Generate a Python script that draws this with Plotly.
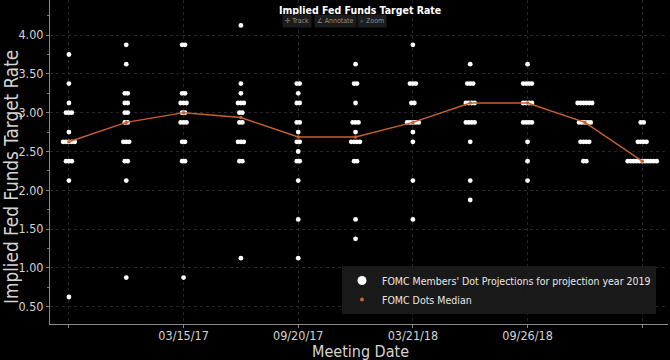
import plotly.graph_objects as go

meetings = ["09/21/16", "12/14/16", "03/15/17", "06/14/17", "09/20/17", "12/13/17",
            "03/21/18", "06/13/18", "09/26/18", "12/19/18", "03/20/19"]
tick_labels = ["", "03/15/17", "09/20/17", "03/21/18", "09/26/18", ""]

dots_2016_09 = [0.625, 2.125, 2.375, 2.375, 2.375, 2.625, 2.625, 2.625, 2.625, 2.625,
                2.75, 3.0, 3.0, 3.0, 3.125, 3.375, 3.75]
dots_2016_12 = [0.875, 2.125, 2.375, 2.375, 2.625, 2.625, 2.625, 2.875, 2.875, 3.0, 3.0,
                3.125, 3.125, 3.25, 3.25, 3.625, 3.875]
dots_2017_03 = [0.875, 2.375, 2.375, 2.625, 2.625, 2.875, 2.875, 2.875, 3.0, 3.0,
                3.125, 3.125, 3.125, 3.25, 3.25, 3.875, 3.875]
dots_2017_06 = [1.125, 2.375, 2.375, 2.625, 2.625, 2.625, 2.875, 2.875, 3.0, 3.0,
                3.125, 3.125, 3.125, 3.25, 3.375, 4.125]
dots_2017_09 = [1.125, 1.625, 2.125, 2.375, 2.375, 2.5, 2.625, 2.625, 2.75, 2.875, 2.875,
                3.125, 3.125, 3.25, 3.375, 3.375]
dots_2017_12 = [1.375, 1.625, 2.375, 2.375, 2.625, 2.625, 2.625, 2.625, 2.75,
                2.875, 2.875, 2.875, 3.125, 3.375, 3.375, 3.625]
dots_2018_03 = [1.625, 2.125, 2.625, 2.75, 2.875, 2.875, 2.875, 2.875, 2.875,
                3.125, 3.125, 3.375, 3.375, 3.375, 3.875]
dots_2018_06 = [1.875, 2.125, 2.625, 2.875, 2.875, 2.875, 2.875, 3.125, 3.125, 3.125, 3.125,
                3.375, 3.375, 3.375, 3.625]
dots_2018_09 = [2.125, 2.375, 2.625, 2.875, 2.875, 2.875, 2.875, 3.125, 3.125, 3.125, 3.125,
                3.375, 3.375, 3.375, 3.375, 3.625]
dots_2018_12 = [2.375, 2.375, 2.625, 2.625, 2.625, 2.625, 2.875, 2.875, 2.875, 2.875, 2.875,
                3.125, 3.125, 3.125, 3.125, 3.125, 3.125]
dots_2019_03 = [2.375] * 11 + [2.625] * 4 + [2.875] * 2

all_dots = [dots_2016_09, dots_2016_12, dots_2017_03, dots_2017_06, dots_2017_09,
            dots_2017_12, dots_2018_03, dots_2018_06, dots_2018_09, dots_2018_12, dots_2019_03]

medians = [2.625, 2.875, 3.0, 2.9375, 2.6875, 2.6875, 2.875, 3.125, 3.125, 2.875, 2.375]

# horizontal offset between identical dots (in category units)
step = 0.0505
dx, dy = [], []
for i, vals in enumerate(all_dots):
    counts = {}
    for v in vals:
        counts[v] = counts.get(v, 0) + 1
    for v, n in counts.items():
        for k in range(n):
            dx.append(i + (k - (n - 1) / 2) * step)
            dy.append(v)

FONT = "DejaVu Sans Condensed, Liberation Sans Narrow, Arial Narrow, sans-serif"
ORANGE = "#c8612c"
TXT = "#d4d4d4"

# plot area in pixels
L, R, T, B = 50, 2, 0, 36
W, H = 670 - L - R, 360 - T - B


def px(xp):
    return (xp - L) / W


def py(yp):
    return (360 - B - yp) / H


fig = go.Figure()
fig.add_trace(go.Scatter(x=dx, y=dy, mode="markers",
                         marker=dict(color="white", size=4.8, line=dict(width=0)),
                         showlegend=False, hoverinfo="y"))
fig.add_trace(go.Scatter(x=list(range(len(meetings))), y=medians, mode="lines+markers",
                         line=dict(color=ORANGE, width=1.4),
                         marker=dict(color=ORANGE, size=3.5),
                         showlegend=False))
# legend entries
fig.add_trace(go.Scatter(x=[None], y=[None], mode="markers",
                         marker=dict(color="white", size=9),
                         name="FOMC Members' Dot Projections for projection year 2019"))
fig.add_trace(go.Scatter(x=[None], y=[None], mode="markers",
                         marker=dict(color=ORANGE, size=4),
                         name="FOMC Dots Median"))

fig.update_layout(
    width=670, height=360,
    paper_bgcolor="black", plot_bgcolor="black",
    margin=dict(l=L, r=R, t=T, b=B, autoexpand=False),
    font=dict(family=FONT, color=TXT),
    showlegend=True,
    legend=dict(x=px(342), y=py(266), xanchor="left", yanchor="top",
                bgcolor="rgba(28,28,28,0.9)", borderwidth=0,
                font=dict(size=10.5, color="#e6e6e6", family=FONT),
                itemsizing="trace", tracegroupgap=0),
    xaxis=dict(range=[-0.33, 10.45], tickmode="array", automargin=False,
               tickvals=[0, 2, 4, 6, 8, 10], ticktext=tick_labels,
               ticks="outside", ticklen=3, tickcolor="#888",
               ticklabelstandoff=-3,
               showline=True, linecolor="#8a8a8a", linewidth=1,
               showgrid=True, gridcolor="#262626", griddash="dot", gridwidth=1,
               zeroline=False,
               tickfont=dict(size=12.5, color=TXT)),
    yaxis=dict(range=[0.277, 4.452], tickmode="array", automargin=False,
               tickvals=[0.5, 1.0, 1.5, 2.0, 2.5, 3.0, 3.5, 4.0],
               tickformat=".2f",
               ticks="outside", ticklen=3, tickcolor="#888",
               minor=dict(dtick=0.25, ticks="outside", ticklen=2, tickcolor="#777", showgrid=False),
               showline=True, linecolor="#8a8a8a", linewidth=1,
               showgrid=True, gridcolor="#262626", griddash="dot", gridwidth=1,
               zeroline=False,
               tickfont=dict(size=12.5, color=TXT)),
)

# axis titles
fig.add_annotation(text="Meeting Date", x=px(360), y=py(351), xref="paper", yref="paper",
                   showarrow=False, xanchor="center", yanchor="middle",
                   font=dict(size=16, color=TXT, family=FONT))
fig.add_annotation(text="Implied Fed Funds Target Rate", x=px(11), y=py(177),
                   xref="paper", yref="paper", textangle=-90,
                   showarrow=False, xanchor="center", yanchor="middle",
                   font=dict(size=18.8, color=TXT, family=FONT))

# chart title
fig.add_annotation(text="<b>Implied Fed Funds Target Rate</b>", x=px(360), y=py(10),
                   xref="paper", yref="paper", showarrow=False,
                   xanchor="center", yanchor="middle",
                   font=dict(size=10.5, color="white", family=FONT))

toolbar = [("✛ Track", 297), ("∠ Annotate", 335), ("⌕ Zoom", 372)]
for txt, xp in toolbar:
    fig.add_annotation(text=txt, x=px(xp), y=py(21),
                       xref="paper", yref="paper", showarrow=False,
                       xanchor="center", yanchor="middle",
                       bgcolor="#1c1c1c", borderpad=2,
                       font=dict(size=7, color="#8c8c8c", family=FONT))

fig.write_html("out.html", config={"displayModeBar": False},
               post_script="document.body.style.margin='0';document.body.style.background='black';")
